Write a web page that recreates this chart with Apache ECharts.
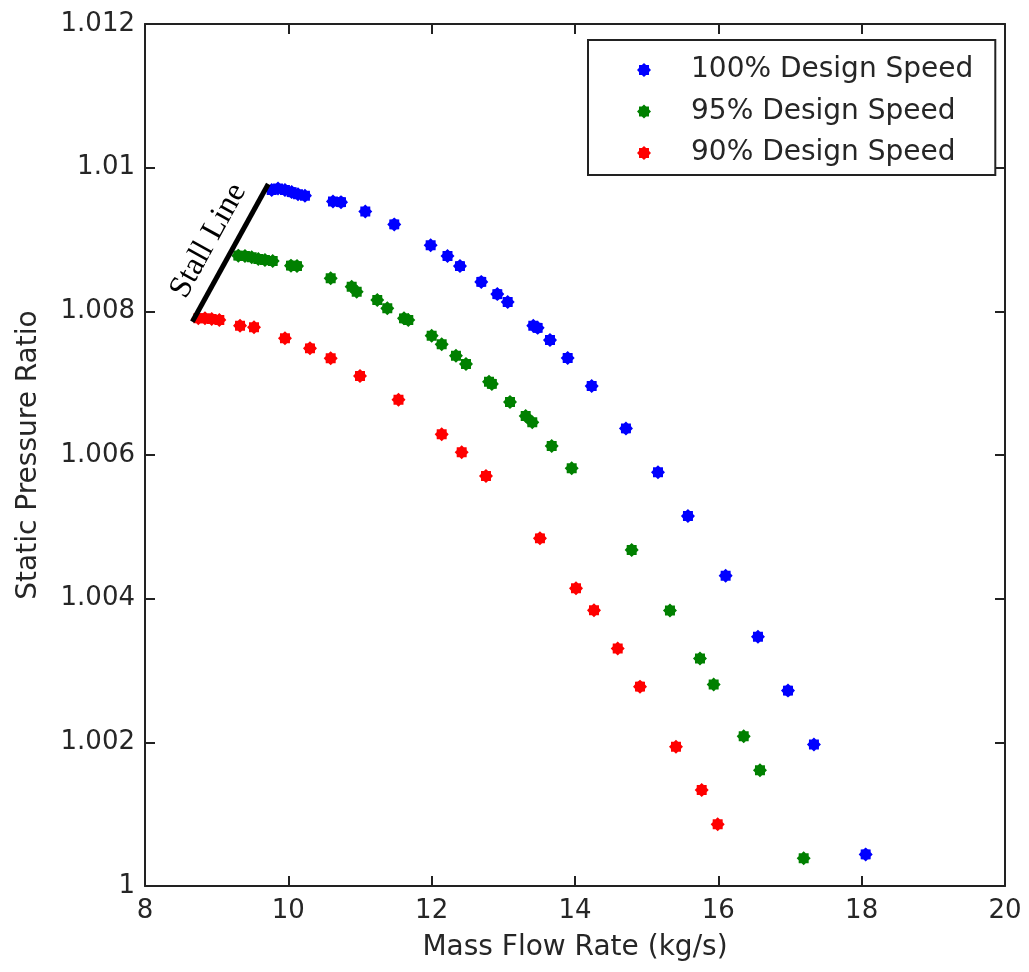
<!DOCTYPE html>
<html>
<head>
<meta charset="utf-8">
<script src="https://cdn.jsdelivr.net/npm/echarts@6/dist/echarts.min.js"></script>
<style>
  html, body { margin: 0; padding: 0; background: #fff; }
  #chart { width: 1029px; height: 972px; }
</style>
</head>
<body>
<div id="chart"></div>
<script>
// Compressor map: static pressure ratio vs. mass flow rate at three shaft speeds
const seriesNames = ['100% Design Speed', '95% Design Speed', '90% Design Speed'];

const speed100X = [9.768, 9.856, 9.953, 10.047, 10.135, 10.232, 10.623, 10.735, 11.074, 11.478, 11.986, 12.221, 12.395, 12.692, 12.916, 13.061, 13.418, 13.479, 13.651, 13.898, 14.233, 14.711, 15.158, 15.576, 16.102, 16.553, 16.972, 17.334, 18.056];
const speed100Y = [1.00969, 1.00971, 1.00969, 1.00966, 1.00963, 1.00961, 1.00953, 1.00952, 1.00939, 1.00921, 1.00892, 1.00877, 1.00863, 1.00841, 1.00824, 1.00813, 1.00780, 1.00777, 1.00760, 1.00735, 1.00696, 1.00637, 1.00576, 1.00515, 1.00432, 1.00347, 1.00272, 1.00197, 1.00044];

const speed95X = [9.302, 9.395, 9.489, 9.581, 9.674, 9.782, 10.037, 10.121, 10.591, 10.884, 10.954, 11.241, 11.381, 11.614, 11.674, 12.0, 12.14, 12.339, 12.479, 12.80, 12.84, 13.093, 13.312, 13.404, 13.675, 13.954, 14.791, 15.325, 15.744, 15.935, 16.354, 16.581, 17.191];
const speed95Y = [1.008775, 1.008771, 1.008752, 1.008729, 1.008715, 1.008701, 1.008636, 1.00863, 1.00846, 1.008343, 1.008273, 1.008158, 1.008042, 1.007902, 1.007879, 1.007661, 1.007541, 1.007382, 1.007267, 1.00702, 1.00699, 1.006738, 1.006543, 1.006455, 1.006125, 1.005816, 1.004678, 1.003835, 1.003167, 1.002805, 1.002084, 1.001611, 1.000386];

const speed90X = [8.744, 8.837, 8.931, 9.037, 9.326, 9.521, 9.953, 10.302, 10.591, 11.0, 11.537, 12.14, 12.419, 12.758, 13.511, 14.014, 14.265, 14.596, 14.907, 15.409, 15.768, 15.991];
const speed90Y = [1.007903, 1.007903, 1.007893, 1.00788, 1.0078, 1.007778, 1.007625, 1.007485, 1.007346, 1.0071, 1.00677, 1.006288, 1.006038, 1.005708, 1.00484, 1.004144, 1.003838, 1.003306, 1.002775, 1.001939, 1.001336, 1.000859];

// Stall line end points (mass flow, pressure ratio)
const stallX = [8.66, 9.72];
const stallY = [1.007856, 1.009773];

// Axis ticks
const xTicks = [8, 10, 12, 14, 16, 18, 20];
const yTicks = [1, 1.002, 1.004, 1.006, 1.008, 1.01, 1.012];

const colors = ['#0000ff', '#008000', '#ff0000'];

// 8-point asterisk-like marker
const STAR = 'path://M100 0 L129.85 27.94 L170.71 29.29 L172.06 70.15 L200 100 L172.06 129.85 L170.71 170.71 L129.85 172.06 L100 200 L70.15 172.06 L29.29 170.71 L27.94 129.85 L0 100 L27.94 70.15 L29.29 29.29 L70.15 27.94 Z';

const pair = (xs, ys) => xs.map((x, i) => [x, ys[i]]);
const fmtY = v => String(Number(v.toFixed(3)));
const TXT = '#262626';
const FONT = 'DejaVu Sans';

const axisLineStyle = { color: '#222', width: 2 };

const baseX = {
  type: 'value', min: xTicks[0], max: xTicks[xTicks.length - 1], interval: 2,
  axisLine: { show: true, onZero: false, lineStyle: axisLineStyle },
  axisTick: { show: true, inside: true, length: 10, lineStyle: axisLineStyle },
  splitLine: { show: false }
};
const baseY = {
  type: 'value', min: yTicks[0], max: yTicks[yTicks.length - 1], interval: 0.002,
  axisLine: { show: true, onZero: false, lineStyle: axisLineStyle },
  axisTick: { show: true, inside: true, length: 10, lineStyle: axisLineStyle },
  splitLine: { show: false }
};

const scatter = (name, data, color) => ({
  name, type: 'scatter', data, symbol: STAR, symbolSize: 14, symbolKeepAspect: true,
  itemStyle: { color, opacity: 1 }, xAxisIndex: 0, yAxisIndex: 0, animation: false, z: 3
});

const chart = echarts.init(document.getElementById('chart'), null, { renderer: 'canvas' });
chart.setOption({
  backgroundColor: '#fff',
  animation: false,
  grid: { left: 145, right: 24, top: 24, bottom: 86, containLabel: false },
  xAxis: [
    Object.assign({}, baseX, {
      position: 'bottom',
      name: 'Mass Flow Rate (kg/s)', nameLocation: 'middle', nameGap: 48,
      nameTextStyle: { fontFamily: FONT, fontSize: 28, color: TXT },
      axisLabel: { show: true, margin: 12, fontFamily: FONT, fontSize: 26, color: TXT }
    }),
    Object.assign({}, baseX, { position: 'top', axisLabel: { show: false } })
  ],
  yAxis: [
    Object.assign({}, baseY, {
      position: 'left',
      name: 'Static Pressure Ratio', nameLocation: 'middle', nameGap: 102,
      nameTextStyle: { fontFamily: FONT, fontSize: 28, color: TXT },
      axisLabel: { show: true, margin: 10, fontFamily: FONT, fontSize: 26, color: TXT, formatter: fmtY }
    }),
    Object.assign({}, baseY, { position: 'right', axisLabel: { show: false } })
  ],
  legend: {
    left: 588, top: 40, orient: 'vertical',
    data: seriesNames.map(n => ({ name: n, icon: STAR })),
    itemWidth: 84, itemHeight: 14, itemGap: 13.5,
    padding: [16, 22, 8, 49],
    borderColor: '#222', borderWidth: 2, backgroundColor: '#fff',
    textStyle: { fontFamily: FONT, fontSize: 28, color: TXT },
    selectedMode: false
  },
  series: [
    scatter(seriesNames[0], pair(speed100X, speed100Y), colors[0]),
    scatter(seriesNames[1], pair(speed95X, speed95Y), colors[1]),
    scatter(seriesNames[2], pair(speed90X, speed90Y), colors[2]),
    {
      name: 'stall', type: 'line', data: [], xAxisIndex: 0, yAxisIndex: 0,
      markLine: {
        silent: true, animation: false, symbol: ['none', 'none'],
        lineStyle: { color: '#000', width: 5, type: 'solid' },
        label: {
          show: true, position: 'insideMiddleTop', formatter: 'Stall Line', distance: 9,
          fontFamily: 'Liberation Serif', fontSize: 32, color: '#000'
        },
        emphasis: { disabled: true },
        data: [[{ coord: [stallX[0], stallY[0]] }, { coord: [stallX[1], stallY[1]] }]]
      }
    }
  ]
});
</script>
</body>
</html>
